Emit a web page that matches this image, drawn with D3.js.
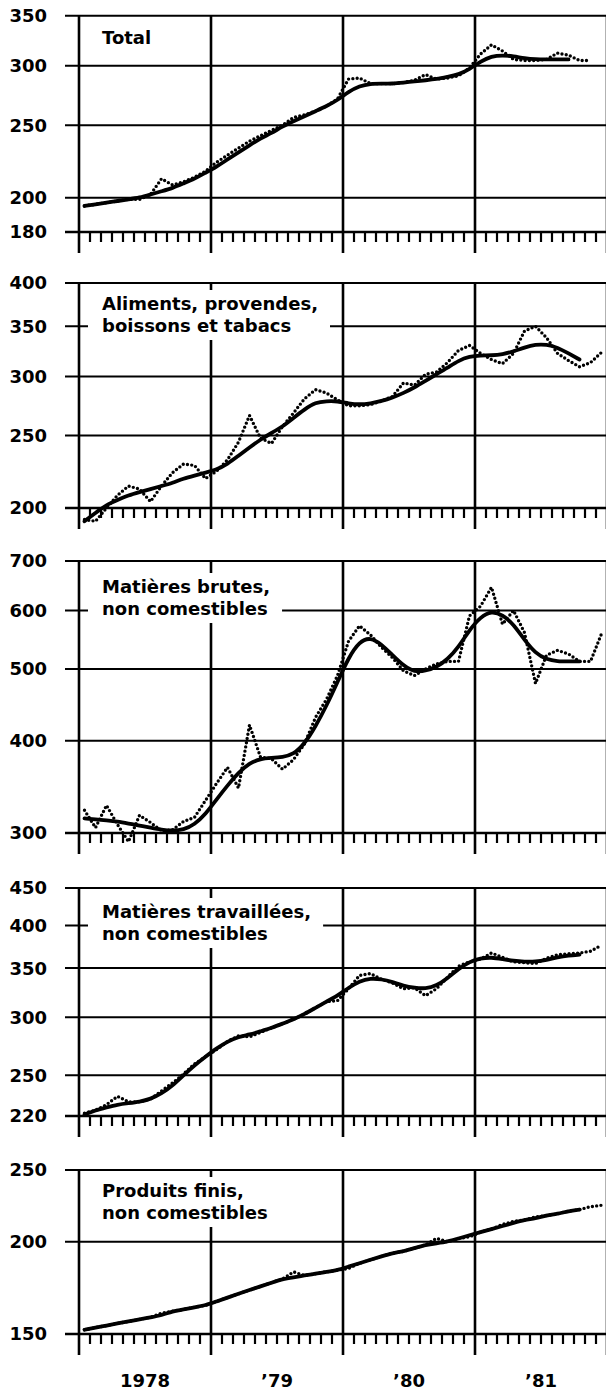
<!DOCTYPE html>
<html><head><meta charset="utf-8">
<script src="https://cdn.jsdelivr.net/npm/d3@7"></script>
<style>
body{margin:0;background:#fff}
svg{display:block}
text{font-family:"DejaVu Sans",sans-serif;font-weight:bold;fill:#000}
</style>
</head><body>
<svg id="c" width="606" height="1393"></svg>
<script>
// ---------- data ----------
const yearLabels = ["1978", "’79", "’80", "’81"];

const titleTotal = ["Total"];
const titleAliments = ["Aliments, provendes,", "boissons et tabacs"];
const titleBrutes = ["Matières brutes,", "non comestibles"];
const titleTravaillees = ["Matières travaillées,", "non comestibles"];
const titleFinis = ["Produits finis,", "non comestibles"];

const ticksTotal = [180, 200, 250, 300, 350];
const ticksAliments = [200, 250, 300, 350, 400];
const ticksBrutes = [300, 400, 500, 600, 700];
const ticksTravaillees = [220, 250, 300, 350, 400, 450];
const ticksFinis = [150, 200, 250];

// monthly values, Jan 1978 onward
const rawTotal = [195,196,197,198,199,199,202,212,208,210,213,217,
                  223,228,233,238,242,246,250,256,258,261,265,271,
                  288,289,284,284,284,285,287,292,288,289,291,298,
                  311,320,314,306,305,305,306,312,310,305,305];
const trendTotal = [195,196,197,198,199,200,202,204,206,209,212,216,
                    220,225,230,235,240,244,249,253,257,261,265,270,
                    277,282,284,284,284,285,286,287,288,290,292,297,
                    304,309,310,309,307,306,306,306,306];

const rawAliments = [193,192,200,208,214,212,204,214,223,229,228,219,
                     224,232,245,266,248,244,257,268,280,288,285,279,
                     274,274,275,278,282,294,292,302,304,313,325,330,
                     322,316,312,322,345,350,338,322,315,309,313,323];
const trendAliments = [192,197,202,205,208,210,212,214,216,219,221,223,
                       225,229,235,241,247,252,257,264,271,277,278,278,
                       276,275,276,278,281,285,290,296,302,308,315,319,
                       320,320,321,324,328,331,331,328,322,316];

const rawBrutes = [322,305,327,308,292,317,310,302,303,311,315,332,
                   350,368,345,420,380,378,366,377,396,430,455,490,
                   545,572,556,535,518,497,490,500,508,512,512,590,
                   608,645,575,600,560,478,522,530,524,512,512,558];
const trendBrutes = [314,313,312,311,309,307,305,303,302,303,308,318,
                     333,348,362,373,378,379,380,383,396,418,446,480,
                     518,545,552,540,522,505,495,497,503,515,535,565,
                     588,599,592,575,547,525,515,512,512,512];

const rawTravaillees = [222,224,228,234,230,230,232,238,244,251,259,265,
                        271,278,283,282,286,290,294,298,303,309,315,316,
                        328,342,344,338,334,328,329,321,328,340,352,357,
                        360,367,362,357,356,355,361,365,366,367,369,376];
const trendTravaillees = [221,224,226,228,229,230,232,236,242,250,258,265,
                          272,278,282,284,287,290,294,298,303,309,315,321,
                          329,336,339,338,335,331,329,328,331,339,349,357,
                          361,362,360,358,357,357,359,362,364,365];

const rawFinis = [152,153,154,155,156,157,158,160,161,162,163,164,
                  166,168,170,172,174,176,178,182,180,181,182,183,
                  184,187,189,191,193,194,196,198,202,200,202,203,
                  206,208,211,213,214,216,217,218,220,221,223,224];
const trendFinis = [152,153,154,155,156,157,158,159,161,162,163,164,
                    166,168,170,172,174,176,178,179,180,181,182,183,
                    185,187,189,191,193,194,196,198,199,200,202,204,
                    206,208,210,212,214,215,217,218,220,221];

// ---------- layout ----------
const svg = d3.select("#c");
const LEFT = 79, RIGHT_EDGE = 606, GRID_X0 = 65;
const x = d3.scaleLinear().domain([0, 48]).range([LEFT, LEFT + 4 * 132]);

const panels = [
  {title: titleTotal, ticks: ticksTotal, raw: rawTotal, trend: trendTotal, top: 15.7, bottom: 232, base: 44},
  {title: titleAliments, ticks: ticksAliments, raw: rawAliments, trend: trendAliments, top: 283, bottom: 508, base: 310},
  {title: titleBrutes, ticks: ticksBrutes, raw: rawBrutes, trend: trendBrutes, top: 561, bottom: 833, base: 593},
  {title: titleTravaillees, ticks: ticksTravaillees, raw: rawTravaillees, trend: trendTravaillees, top: 888, bottom: 1116, base: 918},
  {title: titleFinis, ticks: ticksFinis, raw: rawFinis, trend: trendFinis, top: 1170, bottom: 1334, base: 1197}
];

panels.forEach(p => {
  const g = svg.append("g");
  const y = d3.scaleLog().domain([d3.min(p.ticks), d3.max(p.ticks)]).range([p.bottom, p.top]);

  // horizontal gridlines
  g.selectAll("line.h").data(p.ticks).join("line")
    .attr("x1", GRID_X0).attr("x2", RIGHT_EDGE)
    .attr("y1", d => y(d)).attr("y2", d => y(d))
    .attr("stroke", "#000").attr("stroke-width", d => d === d3.min(p.ticks) ? 2.6 : 2);

  // tick labels
  g.selectAll("text.t").data(p.ticks).join("text")
    .attr("x", 47).attr("y", d => y(d)).attr("dy", "0.36em")
    .attr("text-anchor", "end").attr("font-size", 18)
    .text(d => d);

  // month ticks
  const months = d3.range(1, 48).filter(k => k % 12 !== 0);
  g.selectAll("line.m").data(months).join("line")
    .attr("x1", d => x(d)).attr("x2", d => x(d))
    .attr("y1", p.bottom).attr("y2", p.bottom + 10)
    .attr("stroke", "#000").attr("stroke-width", 2.2);

  // year lines incl. left axis
  g.selectAll("line.y").data([0, 12, 24, 36, 48]).join("line")
    .attr("x1", d => x(d)).attr("x2", d => x(d))
    .attr("y1", p.top).attr("y2", p.bottom + 21)
    .attr("stroke", "#000").attr("stroke-width", 2.6);

  // label with white backing
  const lg = g.append("g");
  const rect = lg.append("rect").attr("fill", "#fff");
  const texts = lg.selectAll("text").data(p.title).join("text")
    .attr("x", 102).attr("y", (d, i) => p.base + i * 22)
    .attr("font-size", 18).text(d => d);
  let w = 0;
  texts.each(function() { w = Math.max(w, this.getComputedTextLength()); });
  rect.attr("x", 88).attr("y", p.base - 20)
      .attr("width", w + 26).attr("height", (p.title.length - 1) * 22 + 28);

  // data
  const line = d3.line().x((d, i) => x(i + 0.5)).y(d => y(d));
  g.append("path").datum(p.trend)
    .attr("d", line.curve(d3.curveBasis))
    .attr("fill", "none").attr("stroke", "#000").attr("stroke-width", 3.8)
    .attr("stroke-linejoin", "round").attr("stroke-linecap", "round");
  g.append("path").datum(p.raw)
    .attr("d", d3.line().x((d, i) => x(i + 0.5)).y(d => y(d)).curve(d3.curveLinear))
    .attr("fill", "none").attr("stroke", "#000").attr("stroke-width", 3.4)
    .attr("stroke-dasharray", "0 4.3").attr("stroke-linecap", "round");
});

// year labels
const yx = d3.scaleBand().domain(yearLabels).range([LEFT, LEFT + 4 * 132]);
svg.selectAll("text.yr").data(yearLabels).join("text")
  .attr("x", d => yx(d) + yx.bandwidth() / 2).attr("y", 1387)
  .attr("text-anchor", "middle").attr("font-size", 18)
  .text(d => d);
</script>
</body></html>
